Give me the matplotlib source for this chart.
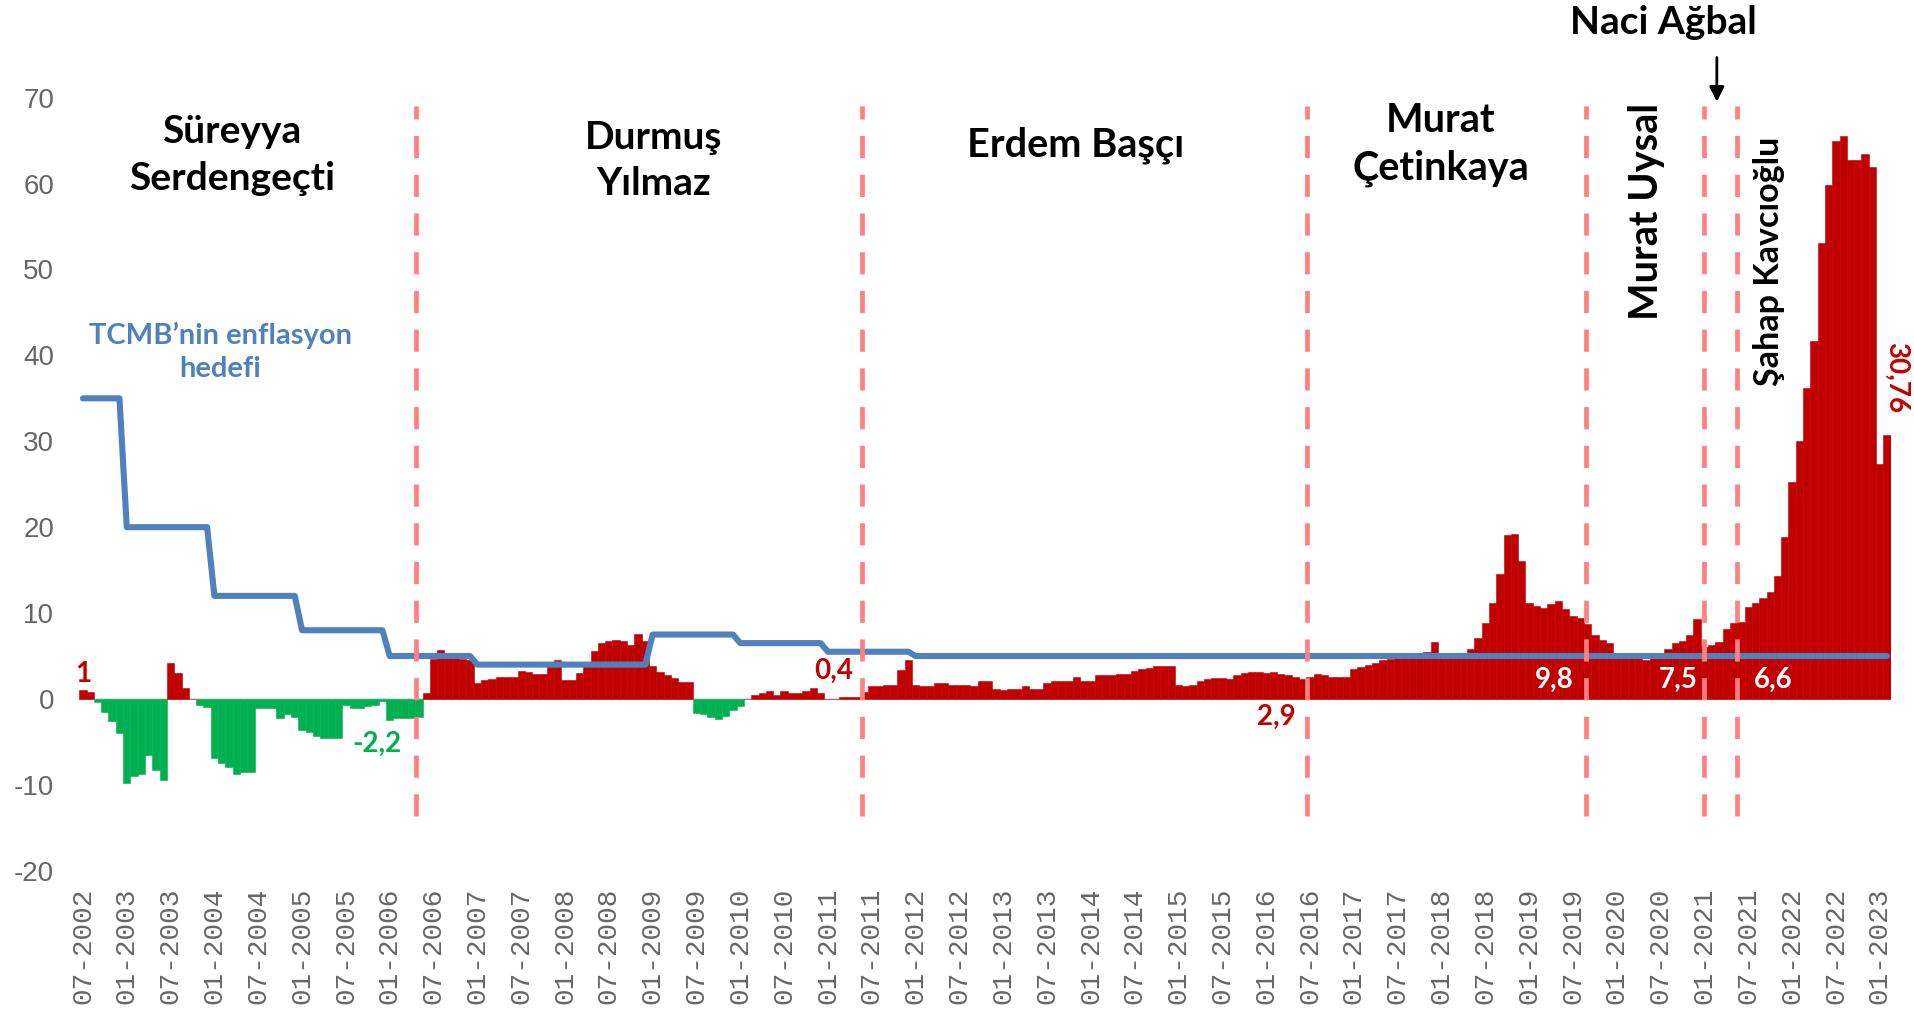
import numpy as np
import pandas as pd
import matplotlib
matplotlib.use("Agg")
import matplotlib.pyplot as plt

plt.rcParams['axes.unicode_minus'] = False

# ---------------------------------------------------------------
# Veri: aylik sapma (07-2002 .. 02-2023), yillara gore
# ---------------------------------------------------------------
Y2002 = [1.05, 0.85, -0.3, -1.5, -2.6, -4.0]
Y2003 = [-9.8, -9.0, -8.7, -6.5, -8.3, -9.4, 4.15, 3.0, 1.25, 0.0, -0.7, -0.9]
Y2004 = [-6.9, -7.4, -7.9, -8.7, -8.5, -8.5, -1.0, -1.1, -1.1, -2.25, -1.8, -2.1]
Y2005 = [-3.6, -3.9, -4.3, -4.5, -4.5, -4.5, -0.7, -1.1, -1.0, -0.8, -0.7, -0.2]
Y2006 = [-2.4, -2.25, -2.2, -2.2, -2.1, 0.75, 4.6, 5.7, 5.0, 4.8, 4.6, 4.5]
Y2007 = [1.9, 2.2, 2.3, 2.5, 2.6, 2.6, 3.3, 3.1, 2.9, 2.9, 3.9, 4.5]
Y2008 = [2.25, 2.2, 3.0, 4.0, 5.6, 6.5, 6.7, 6.9, 6.8, 6.3, 7.6, 6.8]
Y2009 = [3.8, 3.1, 2.75, 2.4, 2.0, 2.0, -1.6, -1.8, -2.1, -2.3, -2.0, -1.25]
Y2010 = [-0.8, 0.05, 0.5, 0.7, 0.9, 0.5, 0.9, 0.7, 0.7, 0.9, 1.3, 0.7]
Y2011 = [0.0, 0.0, 0.25, 0.25, 0.25, 0.8, 1.5, 1.5, 1.67, 1.67, 3.4, 4.5]
Y2012 = [1.67, 1.5, 1.5, 1.9, 1.9, 1.67, 1.67, 1.67, 1.5, 2.1, 2.1, 1.2]
Y2013 = [1.0, 1.2, 1.2, 1.5, 1.2, 1.2, 1.86, 2.1, 2.1, 2.1, 2.5, 2.1]
Y2014 = [2.1, 2.75, 2.75, 2.75, 2.9, 2.9, 3.2, 3.45, 3.65, 3.84, 3.84, 3.84]
Y2015 = [1.67, 1.5, 1.67, 2.06, 2.37, 2.48, 2.48, 2.29, 2.75, 3.0, 3.14, 3.14]
Y2016 = [3.0, 3.14, 2.9, 2.75, 2.5, 2.37, 2.6, 2.9, 2.8, 2.6, 2.5, 2.5]
Y2017 = [3.5, 3.7, 3.9, 4.2, 4.5, 4.7, 4.9, 4.9, 4.9, 4.9, 5.5, 6.6]
Y2018 = [4.9, 4.9, 4.9, 4.9, 5.8, 7.1, 8.9, 11.2, 14.5, 19.1, 19.2, 16.1]
Y2019 = [11.2, 10.8, 10.6, 11.0, 11.4, 10.5, 9.7, 9.4, 8.7, 7.5, 6.9, 6.5]
Y2020 = [5.0, 5.0, 5.0, 5.0, 4.5, 5.0, 5.0, 5.8, 6.5, 6.7, 7.5, 9.3]
Y2021 = [6.1, 6.3, 6.6, 8.2, 8.8, 9.0, 10.7, 11.2, 11.7, 12.5, 14.3, 18.8]
Y2022 = [25.3, 30.0, 36.2, 41.7, 53.1, 59.8, 64.9, 65.5, 62.8, 62.8, 63.5, 61.9]
Y2023 = [27.4, 30.76]

# TCMB'nin yillik enflasyon hedefi
HEDEF_YIL = [2002, 2003, 2004, 2005, 2006, 2007, 2008, 2009, 2010, 2011,
             2012, 2013, 2014, 2015, 2016, 2017, 2018, 2019, 2020, 2021, 2022, 2023]
HEDEF_DEGER = [35, 20, 12, 8, 5, 4, 4, 7.5, 6.5, 5.5,
               5, 5, 5, 5, 5, 5, 5, 5, 5, 5, 5, 5]

# baskan degisimleri (ay indeksi, 0 = 07-2002)
BASKAN_DEGISIM = [45.6, 106.6, 167.6, 205.8, 222.0, 226.5]

# ===============================================================
degerler = np.array(Y2002 + Y2003 + Y2004 + Y2005 + Y2006 + Y2007 + Y2008 + Y2009
                    + Y2010 + Y2011 + Y2012 + Y2013 + Y2014 + Y2015 + Y2016 + Y2017
                    + Y2018 + Y2019 + Y2020 + Y2021 + Y2022 + Y2023)
aylar = pd.date_range("2002-07-01", periods=len(degerler), freq="MS")
x = np.arange(len(degerler))
hedef_map = dict(zip(HEDEF_YIL, HEDEF_DEGER))
hedef = np.array([hedef_map[a.year] for a in aylar])

KIRMIZI = '#C00000'
YESIL = '#00B050'
MAVI = '#4F81BD'
GRI = '#666666'
FONT = 'Lato'

fig = plt.figure(figsize=(19.15, 10.09), dpi=100)
ax = fig.add_axes([0.0414, 0.1370, 0.9459, 0.7662])

renkler = [KIRMIZI if v >= 0 else YESIL for v in degerler]
ax.bar(x, degerler, width=1.0, color=renkler, edgecolor=renkler, linewidth=0.4, zorder=2)
ax.axhline(0, color='#d9d9d9', lw=1.3, zorder=1)
ax.plot(x, hedef, color=MAVI, lw=4.4, solid_joinstyle='round', solid_capstyle='round', zorder=3)

for d in BASKAN_DEGISIM:
    ax.plot([d, d], [-13.6, 69], color='#FF8080', lw=3.4, dashes=(4.7, 3.5), zorder=4,
            clip_on=False)

ax.set_xlim(-0.5, len(degerler) - 0.5)
ax.set_ylim(-20, 70)
ax.set_yticks(range(-20, 71, 10))
ax.set_xticks(x[::6])
ax.set_xticklabels([a.strftime('%m-%Y') for a in aylar[::6]], rotation=90,
                   family='Liberation Mono', fontsize=20, color=GRI)
for lab in ax.get_yticklabels():
    lab.set_family('Liberation Sans')
    lab.set_fontsize(20)
    lab.set_color(GRI)
ax.tick_params(axis='both', length=0)
ax.tick_params(axis='y', pad=18)
ax.tick_params(axis='x', pad=12)
for s in ax.spines.values():
    s.set_visible(False)

# baskan isimleri
baslik = dict(family=FONT, fontweight='bold', color='black', ha='center', va='center',
              clip_on=False)
ax.text(20.4, 63.3, 'Süreyya\nSerdengeçti', fontsize=28, linespacing=1.4, **baslik)
ax.text(78.1, 62.7, 'Durmuş\nYılmaz', fontsize=28, linespacing=1.4, **baslik)
ax.text(135.9, 64.5, 'Erdem Başçı', fontsize=28.5, **baslik)
ax.text(185.9, 64.5, 'Murat\nÇetinkaya', fontsize=28.5, linespacing=1.35, **baslik)
ax.text(214.1, 56.8, 'Murat Uysal', fontsize=28.5, rotation=90, **baslik)
ax.text(216.4, 78.8, 'Naci Ağbal', fontsize=28, **baslik)
ax.text(230.8, 50.9, 'Şahap Kavcıoğlu', fontsize=24.5, rotation=90, **baslik)
ax.annotate('', xy=(223.7, 69.2), xytext=(223.7, 75.0), annotation_clip=False,
            arrowprops=dict(arrowstyle='-|>', color='black', lw=2, mutation_scale=22))

ax.text(18.8, 40.4, 'TCMB’nin enflasyon\nhedefi', fontsize=21, color=MAVI,
        family=FONT, fontweight='bold', ha='center', va='center', linespacing=1.35)

# deger etiketleri
etiket = dict(family=FONT, fontweight='bold', fontsize=20, ha='center', va='center')
ax.text(0.0, 2.9, '1', color=KIRMIZI, **etiket)
ax.text(40.2, -5.2, '-2,2', color=YESIL, **etiket)
ax.text(102.8, 3.3, '0,4', color=KIRMIZI, **etiket)
ax.text(163.4, -2.1, '2,9', color=KIRMIZI, **etiket)
ax.text(201.4, 2.2, '9,8', color='white', zorder=5, **etiket)
ax.text(218.4, 2.2, '7,5', color='white', zorder=5, **etiket)
ax.text(231.4, 2.2, '6,6', color='white', zorder=5, **etiket)
ax.text(248.2, 37.4, '30,76', color=KIRMIZI, rotation=-90, clip_on=False, **etiket)

fig.savefig('out.png', dpi=100, facecolor='white')
